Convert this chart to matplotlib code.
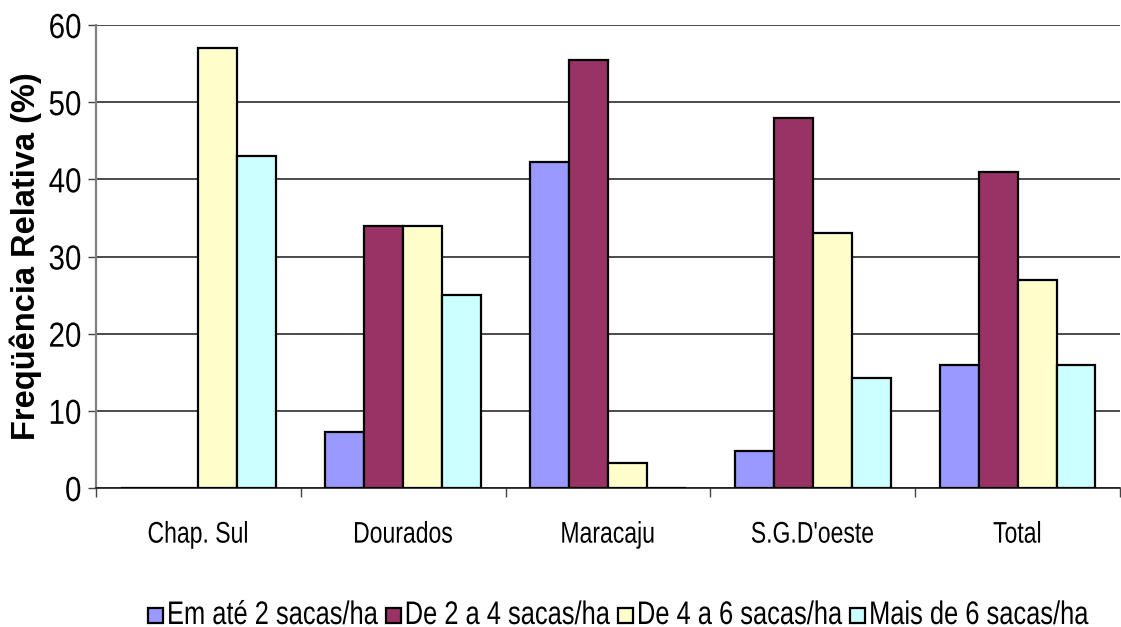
import matplotlib
matplotlib.use("Agg")
import matplotlib.pyplot as plt
import numpy as np
from matplotlib.patches import Rectangle
from matplotlib.patheffects import AbstractPathEffect
from matplotlib.text import Text
from matplotlib.transforms import Affine2D, Bbox

# Regions and production classes
categories = ["Chap. Sul", "Dourados", "Maracaju", "S.G.D'oeste", "Total"]
series_names = ["Em até 2 sacas/ha", "De 2 a 4 sacas/ha", "De 4 a 6 sacas/ha", "Mais de 6 sacas/ha"]
ate2 = [0, 7.3, 42.2, 4.8, 16]
de2a4 = [0, 34, 55.4, 48, 41]
de4a6 = [57, 34, 3.2, 33.1, 27]
mais6 = [43, 25, 0, 14.3, 16]
yticks = [0, 10, 20, 30, 40, 50, 60]

colors = ["#9999FF", "#993366", "#FFFFCC", "#CCFFFF"]

plt.rcParams["font.family"] = ["Liberation Sans", "DejaVu Sans"]


class Condensed(AbstractPathEffect):
    """Squeeze glyph outlines horizontally around a chosen anchor."""

    def __init__(self, sx=0.8, anchor="center"):
        super().__init__()
        self.sx = sx
        self.anchor = anchor

    def draw_path(self, renderer, gc, tpath, affine, rgbFace=None):
        v = tpath.vertices
        xmax = float(v[:, 0].max()) if len(v) else 0.0
        cx = {"left": 0.0, "center": xmax / 2.0, "right": xmax}[self.anchor]
        t = Affine2D().translate(-cx, 0).scale(self.sx, 1.0).translate(cx, 0) + affine
        renderer.draw_path(gc, tpath, t, rgbFace)


class CondensedText(Text):
    """Left-aligned text drawn narrower, reporting its narrowed extent."""

    def __init__(self, *args, sx=0.8, **kwargs):
        super().__init__(*args, **kwargs)
        self._sx = sx
        self.set_path_effects([Condensed(sx, "left")])

    def get_window_extent(self, renderer=None, dpi=None):
        bb = super().get_window_extent(renderer, dpi)
        return Bbox.from_extents(bb.x0, bb.y0, bb.x0 + bb.width * self._sx, bb.y1)


W, H = 1121, 627
fig = plt.figure(figsize=(W / 100, H / 100), dpi=100)
ax = fig.add_axes([96 / W, 1 - 488 / H, 1024 / W, 463 / H])

x = np.arange(len(categories))
w = 0.19
series = [ate2, de2a4, de4a6, mais6]
for i, (vals, c, name) in enumerate(zip(series, colors, series_names)):
    ax.bar(x + (i - 1.5) * w, vals, width=w, color=c, edgecolor="black",
           linewidth=1.6, label=name, zorder=3)

ax.set_xlim(-0.5, len(categories) - 0.5)
ax.set_ylim(0, 60)
ax.set_yticks(yticks)
ax.yaxis.grid(True, color="#1a1a1a", linewidth=1.1, zorder=0)
ax.set_axisbelow(True)

for s in ["top", "right"]:
    ax.spines[s].set_visible(False)
ax.spines["left"].set_color("#808080")
ax.spines["left"].set_linewidth(1.6)
ax.spines["bottom"].set_color("#1a1a1a")
ax.spines["bottom"].set_linewidth(1.2)

# Category boundaries carry the tick marks, centres carry the names
ax.set_xticks(np.arange(-0.5, len(categories), 1.0))
ax.set_xticklabels([])
ax.set_xticks(x, minor=True)
ax.set_xticklabels(categories, minor=True, fontsize=21.5)
ax.tick_params(axis="x", which="minor", length=0, pad=23.5)
ax.tick_params(axis="x", which="major", length=6.5, width=1, color="#444444")
ax.tick_params(axis="y", length=6, width=1, color="#444444", labelsize=25, pad=4.3)

for lab in ax.get_xticklabels(minor=True):
    lab.set_path_effects([Condensed(0.77, "center")])
for lab in ax.get_yticklabels():
    lab.set_path_effects([Condensed(0.85, "right")])

ax.set_ylabel("Freqüência Relativa (%)", fontsize=23.5, fontweight="bold")
ax.yaxis.set_label_coords(-0.053, 0.5)

# Legend row along the bottom edge
renderer = fig.canvas.get_renderer()
leg_sx = 0.78
sq = 15
xpos = 148
base_y = 624
for name, c in zip(series_names, colors):
    fig.patches.append(Rectangle((xpos / W, 1 - (base_y - 1) / H), sq / W, sq / H,
                                 transform=fig.transFigure, facecolor=c,
                                 edgecolor="black", linewidth=1.6))
    tx = xpos + sq + 4
    t = CondensedText(tx / W, 1 - base_y / H, name, sx=leg_sx, fontsize=23.5,
                      ha="left", va="baseline", transform=fig.transFigure)
    fig.add_artist(t)
    width = t.get_window_extent(renderer).width
    xpos = tx + width + 8

fig.savefig("out.png", dpi=100)
